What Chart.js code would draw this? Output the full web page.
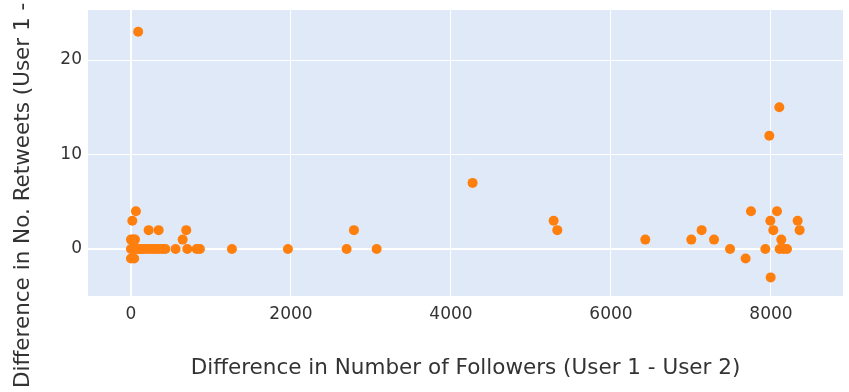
<!DOCTYPE html>
<html>
<head>
<meta charset="utf-8">
<script src="https://cdn.jsdelivr.net/npm/chart.js@4"></script>
<style>
  html, body { margin: 0; padding: 0; background: #fff; }
  canvas { display: block; }
</style>
</head>
<body>
<canvas id="scatter" width="849" height="392"></canvas>
<script>
// Difference in followers (x) and retweets (y)
const followersDiff = [
    90, 62, 17, 221, 346, 691, 646,
    0, 30, 50,
    0, 40,
    0, 10, 30, 60, 90, 120, 150, 190, 230, 270, 310, 350, 390, 430,
    558, 704, 821, 862, 1262, 1962, 2696, 3071,
    2787, 4270, 5283, 5329, 6429, 7004, 7133, 7288, 7488, 7683,
    7750, 7929, 7992, 8029, 8075, 8129, 8108, 8158, 8200, 7996,
    8333, 8358, 8104, 7979
];
const retweetsDiff = [
    23, 4, 3, 2, 2, 2, 1,
    1, 1, 1,
    -1, -1,
    0, 0, 0, 0, 0, 0, 0, 0, 0, 0, 0, 0, 0, 0,
    0, 0, 0, 0, 0, 0, 0, 0,
    2, 7, 3, 2, 1, 1, 2, 1, 0, -1,
    4, 0, 3, 2, 4, 1, 0, 0, 0, -3,
    3, 2, 15, 12
];
const xTicks = [0, 2000, 4000, 6000, 8000];
const yTicks = [0, 10, 20];

const xTitle = 'Difference in Number of Followers (User 1 - User 2)';
const yTitle = 'Difference in No. Retweets (User 1 - User 2)';

const points = followersDiff.map((x, i) => ({ x: x, y: retweetsDiff[i] }));

// blue background of the plot area
const plotBg = {
    id: 'plotBg',
    beforeDraw(chart) {
        const { ctx, chartArea: a } = chart;
        ctx.save();
        ctx.fillStyle = '#dfe9f8';
        ctx.fillRect(a.left, a.top, a.right - a.left, a.bottom - a.top);
        ctx.restore();
    }
};

const fontFamily = '"DejaVu Sans", Verdana, sans-serif';
const textColor = '#333333';

new Chart(document.getElementById('scatter'), {
    type: 'scatter',
    data: {
        datasets: [{
            data: points,
            backgroundColor: '#ff7f0e',
            borderWidth: 0,
            pointRadius: 5,
            pointHoverRadius: 5
        }]
    },
    options: {
        responsive: false,
        animation: false,
        devicePixelRatio: 1,
        layout: { padding: { top: 10, right: 6, left: 0, bottom: 0 } },
        plugins: { legend: { display: false }, tooltip: { enabled: false } },
        scales: {
            x: {
                type: 'linear',
                min: -537,
                max: 8900,
                afterFit(scale) {
                    scale.height = 96;
                    scale.paddingLeft = 0;
                    scale.paddingRight = 0;
                },
                afterBuildTicks(scale) { scale.ticks = xTicks.map(v => ({ value: v })); },
                border: { display: false },
                grid: {
                    color: '#ffffff',
                    lineWidth: ctx => ctx.tick && ctx.tick.value === 0 ? 2 : 1,
                    drawTicks: false
                },
                ticks: {
                    padding: 8,
                    color: textColor,
                    font: { family: fontFamily, size: 17 },
                    callback: v => String(v)
                },
                title: {
                    display: true,
                    text: xTitle,
                    color: textColor,
                    padding: { top: 0, bottom: 11 },
                    font: { family: fontFamily, size: 21.5 }
                }
            },
            y: {
                type: 'linear',
                min: -4.97,
                max: 25.3,
                afterFit(scale) {
                    scale.width = 88;
                    scale.paddingTop = 0;
                    scale.paddingBottom = 0;
                },
                afterBuildTicks(scale) { scale.ticks = yTicks.map(v => ({ value: v })); },
                border: { display: false },
                grid: {
                    color: '#ffffff',
                    lineWidth: ctx => ctx.tick && ctx.tick.value === 0 ? 2 : 1,
                    drawTicks: false
                },
                ticks: {
                    padding: 6,
                    color: textColor,
                    font: { family: fontFamily, size: 17 },
                    callback: v => String(v)
                },
                title: {
                    display: true,
                    text: yTitle,
                    color: textColor,
                    padding: { top: 11, bottom: 0 },
                    font: { family: fontFamily, size: 21.5 }
                }
            }
        }
    },
    plugins: [plotBg]
});
</script>
</body>
</html>
